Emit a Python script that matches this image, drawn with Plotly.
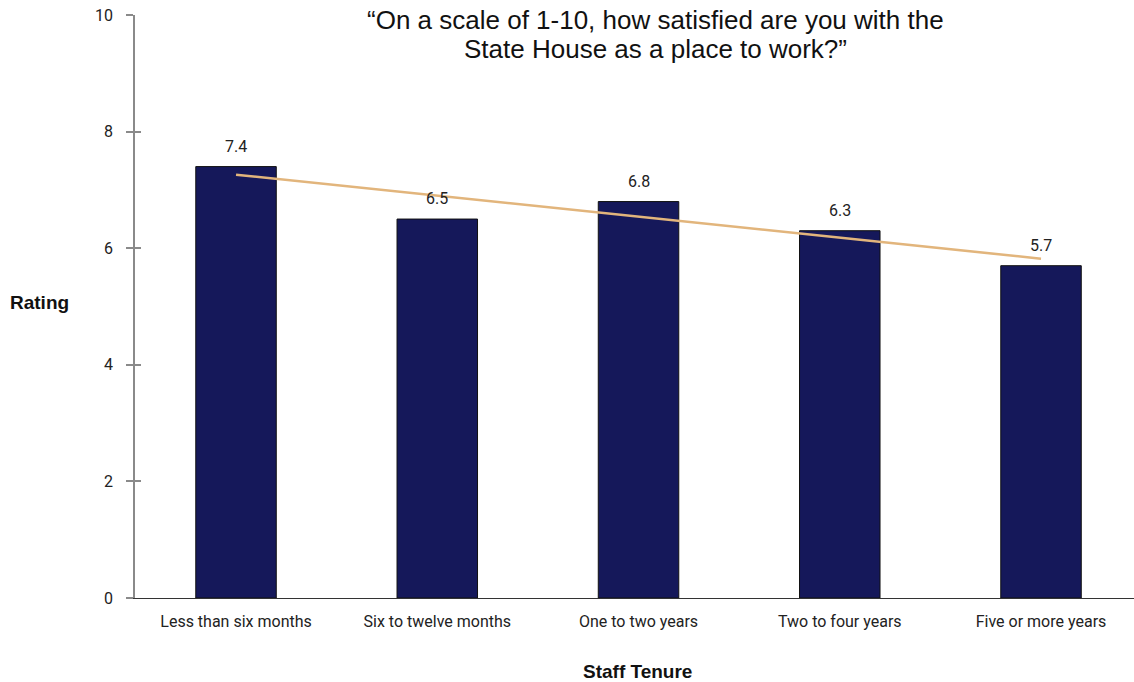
import numpy as np
import plotly.graph_objects as go

categories = ["Less than six months", "Six to twelve months", "One to two years",
              "Two to four years", "Five or more years"]
ratings = [7.4, 6.5, 6.8, 6.3, 5.7]
y_ticks = [0, 2, 4, 6, 8, 10]
title_lines = ["“On a scale of 1-10, how satisfied are you with the",
               "State House as a place to work?”"]

xi = np.arange(len(categories))
slope, intercept = np.polyfit(xi, ratings, 1)
trend = slope * xi + intercept

L, T, B = 135, 15, 84
PW, PH = 1134 - L, 682 - T - B

fig = go.Figure()
fig.add_trace(go.Bar(
    x=xi, y=ratings, width=0.4,
    marker=dict(color="#15185A", line=dict(color="#111111", width=1)),
    showlegend=False, hoverinfo="y",
))
fig.add_trace(go.Scatter(
    x=xi, y=trend, mode="lines",
    line=dict(color="#E2B57C", width=2.5), showlegend=False,
))
# invisible trace on overlaying axis to draw inside tick marks
fig.add_trace(go.Scatter(x=[xi[0]], y=[0], yaxis="y2", mode="markers",
                         marker=dict(opacity=0), showlegend=False, hoverinfo="skip"))

annotations = []
for x, v in zip(xi, ratings):
    annotations.append(dict(
        x=x, y=v, xref="x", yref="y", text=f"{v:.1f}", showarrow=False,
        yanchor="bottom", yshift=9,
        font=dict(family="Roboto", size=16, color="#222222"),
    ))
for i, line in enumerate(title_lines):
    annotations.append(dict(
        text=line, xref="paper", yref="paper",
        x=(655 - L) / PW, y=(598 - (20 + 29 * i)) / PH,
        xanchor="center", yanchor="middle", showarrow=False,
        font=dict(family="Liberation Sans, Arial", size=26, color="#111111"),
    ))
annotations += [
    dict(text="<b>Rating</b>", xref="paper", yref="paper", x=(39 - L) / PW, y=(598 - 302) / PH,
         xanchor="center", yanchor="middle", showarrow=False,
         font=dict(family="Liberation Sans, Arial", size=19, color="#111111")),
    dict(text="<b>Staff Tenure</b>", xref="paper", yref="paper", x=(637 - L) / PW, y=-(671 - 598) / PH,
         xanchor="center", yanchor="middle", showarrow=False,
         font=dict(family="Liberation Sans, Arial", size=19, color="#111111")),
]

fig.update_layout(
    width=1134, height=682,
    margin=dict(l=L, r=0, t=T, b=B),
    paper_bgcolor="white", plot_bgcolor="white",
    xaxis=dict(
        range=[-0.502, 4.462],
        tickmode="array", tickvals=list(xi), ticktext=categories,
        showline=True, linecolor="#333333", linewidth=1,
        showgrid=False, zeroline=False, ticks="",
        tickfont=dict(family="Roboto", size=16, color="#222222"),
        ticklabelstandoff=9,
    ),
    yaxis=dict(
        range=[0, 10], tickvals=y_ticks,
        showline=True, linecolor="#8A8A8A", linewidth=1.5,
        ticks="outside", ticklen=7, tickcolor="#8A8A8A", tickwidth=1.5,
        showgrid=False, zeroline=False,
        tickfont=dict(family="Roboto", size=16, color="#222222"),
        ticklabelstandoff=10,
    ),
    yaxis2=dict(
        range=[0, 10], tickvals=y_ticks, overlaying="y", side="left",
        showline=False, ticks="inside", ticklen=6, tickcolor="#8A8A8A", tickwidth=1.5,
        showticklabels=False, showgrid=False, zeroline=False,
    ),
    annotations=annotations,
)

fig.write_html("out.html")
